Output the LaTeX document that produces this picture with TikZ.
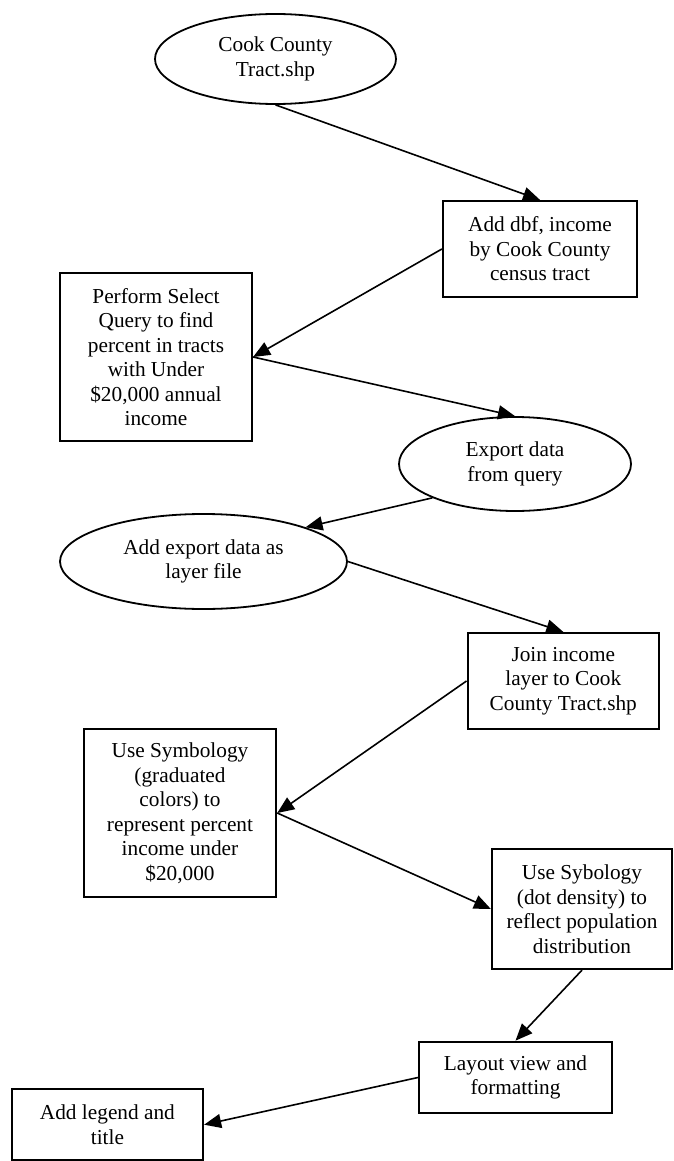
\documentclass[tikz,border=0pt]{standalone}
\usepackage{fontspec}
\setmainfont{Liberation Serif}
\usetikzlibrary{shapes.geometric,arrows.meta}
\tikzset{
  base/.style={draw=black, align=center, inner sep=0pt,
    font=\fontsize{21.3}{24.5}\selectfont},
  boxnode/.style={base, rectangle, line width=2.2pt},
  ovalnode/.style={base, ellipse, line width=1.8pt},
  flow/.style={line width=1.6pt, -{Triangle[length=17pt,width=14pt]}},
}
\begin{document}
\begin{tikzpicture}[x=1pt,y=-1pt]
\useasboundingbox (0,0) rectangle (674,1161);
\fill[white] (0,0) rectangle (674,1161);
\clip (0,0) rectangle (674,1161);

\node[ovalnode, minimum width=241pt, minimum height=90pt] (e1) at (275.5,59) {Cook County\\Tract.shp};
\node[boxnode, minimum width=194pt, minimum height=96pt] (dbf) at (540,249) {Add dbf, income\\by Cook County\\census tract};
\node[boxnode, minimum width=192pt, minimum height=168pt] (perf) at (156,357) {Perform Select\\Query to find\\percent in tracts\\with Under\\\$20,000 annual\\income};
\node[ovalnode, minimum width=232pt, minimum height=94pt] (exp) at (515,464) {Export data\\from query};
\node[ovalnode, minimum width=287pt, minimum height=95pt] (addexp) at (203.5,561.5) {Add export data as\\layer file};
\node[boxnode, minimum width=191.4pt, minimum height=96pt] (join) at (563.3,681) {Join income\\layer to Cook\\County Tract.shp};
\node[boxnode, minimum width=192.3pt, minimum height=168pt] (sym) at (180,813) {Use Symbology\\(graduated\\colors) to\\represent percent\\income under\\\$20,000};
\node[boxnode, minimum width=180pt, minimum height=120pt] (syb) at (582,909) {Use Sybology\\(dot density) to\\reflect population\\distribution};
\node[boxnode, minimum width=193pt, minimum height=71.5pt] (lay) at (515.5,1077.5) {Layout view and\\formatting};
\node[boxnode, minimum width=191.3pt, minimum height=71pt] (leg) at (107.4,1124.7) {Add legend and\\title};

\draw[flow] (e1.south) -- (dbf.north);
\draw[flow] (dbf.west) -- (perf.east);
\draw[flow] (perf.east) -- (exp.north);
\draw[flow] (exp.south west) -- (addexp.north east);
\draw[flow] (addexp.east) -- (join.north);
\draw[flow] (join.west) -- (sym.east);
\draw[flow] (sym.east) -- (syb.west);
\draw[flow] (syb.south) -- (lay.north);
\draw[flow] (lay.west) -- (leg.east);
\end{tikzpicture}
\end{document}
